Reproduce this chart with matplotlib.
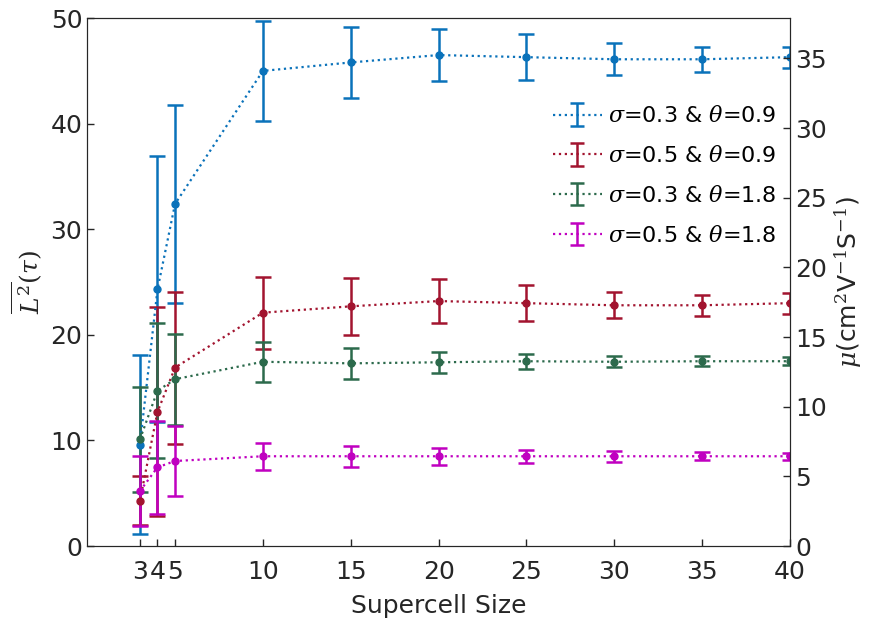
import numpy as np
import matplotlib
matplotlib.use("Agg")
import matplotlib.pyplot as plt

# supercell sizes
sizes = [3, 4, 5, 10, 15, 20, 25, 30, 35, 40]

# L^2(tau) means and error half-widths
blue_y = [9.6, 24.3, 32.4, 45.0, 45.8, 46.5, 46.3, 46.1, 46.1, 46.3]
blue_e = [8.5, 12.6, 9.4, 4.7, 3.4, 2.5, 2.2, 1.5, 1.2, 1.0]
red_y = [4.3, 12.7, 16.9, 22.1, 22.7, 23.2, 23.0, 22.8, 22.8, 23.0]
red_e = [2.3, 9.9, 7.2, 3.4, 2.7, 2.1, 1.7, 1.25, 1.0, 1.0]
green_y = [10.1, 14.7, 15.8, 17.45, 17.3, 17.4, 17.5, 17.45, 17.5, 17.5]
green_e = [5.0, 6.4, 4.3, 1.9, 1.5, 1.0, 0.7, 0.5, 0.45, 0.4]
mag_y = [5.2, 7.45, 8.05, 8.5, 8.5, 8.5, 8.5, 8.5, 8.5, 8.5]
mag_e = [3.3, 4.4, 3.3, 1.3, 1.0, 0.8, 0.6, 0.5, 0.4, 0.35]

labels = [r'$\sigma$=0.3 & $\theta$=0.9', r'$\sigma$=0.5 & $\theta$=0.9',
          r'$\sigma$=0.3 & $\theta$=1.8', r'$\sigma$=0.5 & $\theta$=1.8']
colors = ['#0A72BA', '#A2142F', '#2C6A4C', '#C000C0']
series = [(blue_y, blue_e), (red_y, red_e), (green_y, green_e), (mag_y, mag_e)]

plt.rcParams['font.family'] = ['DejaVu Sans']
plt.rcParams['mathtext.fontset'] = 'dejavuserif'
txt = '#262626'

fig = plt.figure(figsize=(8.72, 6.24), dpi=100)
ax = fig.add_axes([0.1, 0.125, 0.806, 0.846])

handles = []
for (y, e), c, lab in zip(series, colors, labels):
    ax.errorbar(sizes, y, yerr=e, color=c, ls=':', lw=1.6, marker='o', ms=5,
                elinewidth=1.8, capsize=6, capthick=1.8)
    # proxy without marker for the legend
    h = ax.errorbar([np.nan], [np.nan], yerr=[1], color=c, ls=':', lw=1.6,
                    elinewidth=1.8, capsize=5, capthick=1.8, label=lab)
    handles.append(h)

ax.set_xlim(0, 40)
ax.set_ylim(0, 50)
ax.set_xticks(sizes)
ax.set_xticklabels([str(s) for s in sizes])
ax.set_yticks(range(0, 51, 10))
ax.tick_params(direction='in', labelsize=18, colors=txt, length=5, width=1)
ax.tick_params(axis='x', pad=10)
ax.set_xlabel('Supercell Size', fontsize=18, color=txt, labelpad=7)
ax.set_ylabel(r'$\overline{L^2}(\tau)$', fontsize=18, color=txt, labelpad=4)
for s in ax.spines.values():
    s.set_color(txt)

ax2 = ax.twinx()
ax2.set_ylim(0, 37.9)
ax2.set_yticks(range(0, 36, 5))
ax2.tick_params(direction='in', labelsize=18, colors=txt, length=5, width=1)
ax2.set_ylabel(r'$\mu$(cm$^2$V$^{-1}$S$^{-1}$)', fontsize=18, color=txt,
               labelpad=4)
for s in ax2.spines.values():
    s.set_color(txt)

ax.legend(handles=handles, labels=labels, loc='upper right',
          bbox_to_anchor=(1.0, 0.86), frameon=False, fontsize=16,
          handlelength=2.2, handletextpad=0.3, labelspacing=0.85,
          borderaxespad=0.2)

fig.savefig('out.png', dpi=100)
